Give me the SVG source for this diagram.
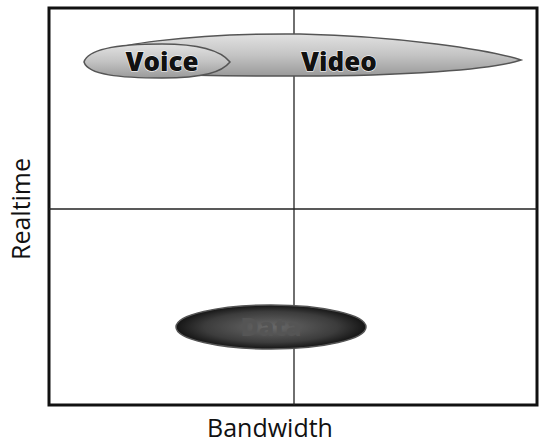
<svg xmlns="http://www.w3.org/2000/svg" width="542" height="443" viewBox="0 0 542 443">
<style>
.axis{font-family:"Open Sans","Liberation Sans",sans-serif;font-size:25px;fill:#111}
.lbl{font-family:"Open Sans","Liberation Sans",sans-serif;font-size:26px;font-weight:800;fill:#111;stroke:#fff;stroke-width:1;paint-order:stroke}
.frame{fill:none;stroke:#111;stroke-width:3}
.grid{stroke:#222;stroke-width:1.3}
.blob{stroke:#555;stroke-width:1.5}
</style>
<defs>
<linearGradient id="g1" x1="0" y1="0" x2="0" y2="1">
<stop offset="0" stop-color="#e2e2e2"/><stop offset="0.5" stop-color="#c4c4c4"/><stop offset="1" stop-color="#9a9a9a"/>
</linearGradient>
<radialGradient id="g2" cx="0.5" cy="0.5" r="0.5">
<stop offset="0" stop-color="#6a6a6a"/><stop offset="0.7" stop-color="#3c3c3c"/><stop offset="1" stop-color="#151515"/>
</radialGradient>
</defs>
<g id="chart">
<rect class="frame" x="49" y="8" width="488" height="397"/>
<line class="grid" x1="294" y1="8" x2="294" y2="405"/>
<line class="grid" x1="49" y1="209" x2="537" y2="209"/>
</g>
<g id="video">
<path class="blob" fill="url(#g1)" d="M85,62 C92,44 200,33 300,34 C400,36 490,50 521,60 C492,70 400,76 300,76 C200,76 90,76 85,62 Z"/>
<text class="lbl" x="339" y="71" text-anchor="middle">Video</text>
</g>
<g id="voice">
<path class="blob" fill="url(#g1)" d="M84,62 C88,49 120,44 162,44 C204,44 222,52 230,62 C222,72 204,78 162,78 C120,78 88,75 84,62 Z"/>
<text class="lbl" x="162" y="71" text-anchor="middle">Voice</text>
</g>
<g id="data">
<ellipse class="blob" fill="url(#g2)" cx="271" cy="327" rx="95" ry="22"/>
<text x="271" y="336" text-anchor="middle" font-family="Open Sans, Liberation Sans, sans-serif" font-size="25" font-weight="800" fill="#555">Data</text>
</g>
<g id="labels">
<text class="axis" x="270" y="437" text-anchor="middle">Bandwidth</text>
<text class="axis" transform="translate(30,209) rotate(-90)" text-anchor="middle">Realtime</text>
</g>
</svg>
